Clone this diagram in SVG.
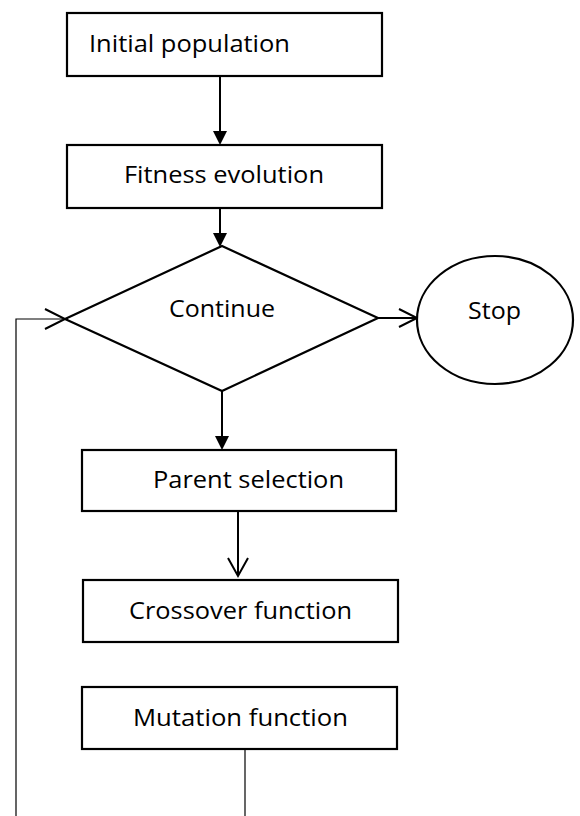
<svg xmlns="http://www.w3.org/2000/svg" width="580" height="816" viewBox="0 0 580 816">
<defs>
<style>
.box{fill:#fff;stroke:#000;stroke-width:2.2}
.t{font-family:"Open Sans","Noto Sans",sans-serif;font-size:24px;fill:#000}
.c{fill:none;stroke:#000;stroke-width:2}
.thin{fill:none;stroke:#000;stroke-width:1.2}
.head{fill:#000;stroke:none}
</style>
</defs>
<rect width="580" height="816" fill="#fff"/>
<g id="connectors">
<line class="c" x1="220" y1="76" x2="220" y2="132"/>
<polygon class="head" points="213,131 227,131 220,145"/>
<line class="c" x1="220" y1="208" x2="220" y2="234"/>
<polygon class="head" points="213,233 227,233 220,247"/>
<line class="c" x1="222" y1="391" x2="222" y2="437"/>
<polygon class="head" points="215,436 229,436 222,450"/>
<line class="c" x1="238" y1="511" x2="238" y2="576"/>
<polyline class="c" points="228,558 238,576 248,558"/>
<line class="c" x1="378" y1="318" x2="417" y2="318"/>
<polyline class="c" points="399,309 417,318 399,327"/>
<polyline class="thin" points="16,816 16,319 65,319"/>
<polyline class="c" points="45,309 65,319 45,329"/>
<line class="thin" x1="245" y1="749" x2="245" y2="816"/>
</g>
<g id="initial">
<rect class="box" x="67" y="13" width="315" height="63"/>
<text class="t" x="89" y="52" textLength="201" lengthAdjust="spacingAndGlyphs">Initial population</text>
</g>
<g id="fitness">
<rect class="box" x="67" y="145" width="315" height="63"/>
<text class="t" x="124" y="183" textLength="200" lengthAdjust="spacingAndGlyphs">Fitness evolution</text>
</g>
<g id="continue">
<polygon class="box" points="222,246 378,318 222,391 65,319"/>
<text class="t" x="169" y="317" textLength="106" lengthAdjust="spacingAndGlyphs">Continue</text>
</g>
<g id="stop">
<ellipse class="box" cx="495" cy="320" rx="78" ry="64"/>
<text class="t" x="468" y="319" textLength="53" lengthAdjust="spacingAndGlyphs">Stop</text>
</g>
<g id="parent">
<rect class="box" x="82" y="450" width="314" height="61"/>
<text class="t" x="153" y="488" textLength="191" lengthAdjust="spacingAndGlyphs">Parent selection</text>
</g>
<g id="crossover">
<rect class="box" x="83" y="580" width="315" height="62"/>
<text class="t" x="129" y="619" textLength="223" lengthAdjust="spacingAndGlyphs">Crossover function</text>
</g>
<g id="mutation">
<rect class="box" x="82" y="687" width="315" height="62"/>
<text class="t" x="133" y="726" textLength="215" lengthAdjust="spacingAndGlyphs">Mutation function</text>
</g>
</svg>
